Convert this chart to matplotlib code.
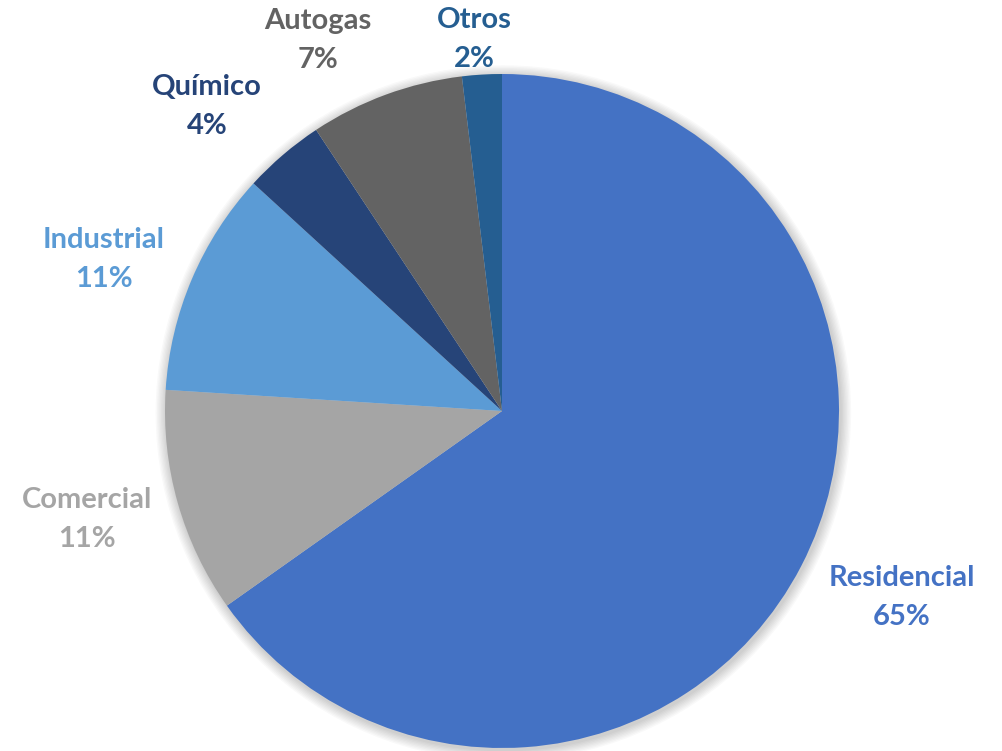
import matplotlib
matplotlib.use("Agg")
import matplotlib.pyplot as plt
from matplotlib.patches import Circle

# data
categories = ["Residencial", "Comercial", "Industrial", "Químico", "Autogas", "Otros"]
shares = [65.2, 10.8, 10.8, 3.9, 7.4, 1.9]
pct_labels = ["65%", "11%", "11%", "4%", "7%", "2%"]
colors = ["#4472C4", "#A5A5A5", "#5B9BD5", "#264478", "#636363", "#255E91"]

# label centres in pixels (x from left, y of first line from top)
label_px = [(902, 578), (87, 500), (104, 240), (207, 87), (318, 21), (474, 20)]

W, H = 1003, 751
cx, cy, R = 502, 411, 337  # pie centre / radius in pixels

fig = plt.figure(figsize=(W / 100, H / 100), dpi=100)
ax = fig.add_axes([0, 0, 1, 1])
ax.set_aspect("equal")
ax.axis("off")

# soft shadow
for i in range(8):
    ax.add_patch(Circle((0.004, -0.006), 1 + 0.004 * (i + 1), color="black",
                        alpha=0.025, lw=0, zorder=0))

ax.pie(shares, colors=colors, startangle=90, counterclock=False, radius=1,
       wedgeprops=dict(linewidth=0))
ax.set_xlim(-cx / R, (W - cx) / R)
ax.set_ylim(-(H - cy) / R, cy / R)

for name, pct, col, (px, py) in zip(categories, pct_labels, colors, label_px):
    x = (px - cx) / R
    y = (cy - py) / R
    ax.text(x, y, name, ha="center", va="center", fontsize=21,
            fontweight="bold", family="Lato", color=col)
    ax.text(x, y - 39 / R, pct, ha="center", va="center", fontsize=21,
            fontweight="bold", family="Lato", color=col)

plt.savefig("out.png", dpi=100)
plt.close()
